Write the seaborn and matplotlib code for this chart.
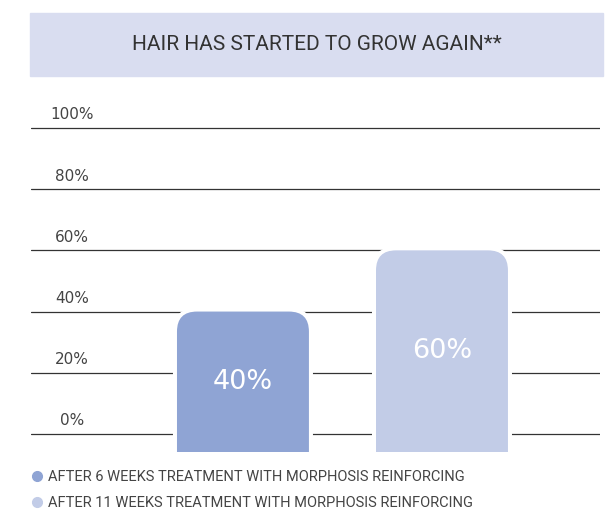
import numpy as np
import pandas as pd
import matplotlib.pyplot as plt
import seaborn as sns
from matplotlib.patches import FancyBboxPatch, Rectangle
from matplotlib.lines import Line2D
import matplotlib.transforms as mtransforms

# 数据
title = "HAIR HAS STARTED TO GROW AGAIN**"
groups = ["AFTER 6 WEEKS TREATMENT WITH MORPHOSIS REINFORCING",
          "AFTER 11 WEEKS TREATMENT WITH MORPHOSIS REINFORCING"]
values = [40, 60]
bar_labels = ["40%", "60%"]
ticks = [0, 20, 40, 60, 80, 100]
tick_labels = ["0%", "20%", "40%", "60%", "80%", "100%"]
colors = ["#8fa4d4", "#c2cce7"]

df = pd.DataFrame({"group": groups, "value": values})

sns.set_theme(style="white")
plt.rcParams['font.family'] = ['Roboto', 'DejaVu Sans']

W, H = 611, 514
fig = plt.figure(figsize=(W / 100, H / 100), dpi=100)
ax = fig.add_axes([31 / W, (H - 452) / H, 569 / W, (452 - 120) / H])

sns.barplot(data=df, x="group", y="value", hue="group", palette=colors,
            saturation=1, width=0.663, legend=False, ax=ax)
ax.set_xlim(-1.065, 1.794)
ax.set_ylim(-5.9, 102.6)

# 网格线
ax.set_yticks(ticks)
ax.set_yticklabels([])
ax.tick_params(length=0)
ax.set_xticks([])
ax.yaxis.grid(True, color="#333333", lw=0.9)
ax.set_axisbelow(True)
ax.set_xlabel("")
ax.set_ylabel("")
sns.despine(ax=ax, left=True, bottom=True)

# 圆角柱子：替换seaborn的矩形
sx = ax.transData.transform((1, 0))[0] - ax.transData.transform((0, 0))[0]
sy = ax.transData.transform((0, 1))[1] - ax.transData.transform((0, 0))[1]
aspect = sx / sy
r = 20 / sx
y_bottom = ax.get_ylim()[0]
for p in list(ax.patches):
    x0, w, top = p.get_x(), p.get_width(), p.get_height()
    fc = p.get_facecolor()
    p.remove()
    y0 = y_bottom - 10
    halo = FancyBboxPatch((x0, y0), w, top - y0,
                          boxstyle=f"round,pad=0,rounding_size={r}",
                          mutation_aspect=aspect, fc="white", ec="white",
                          lw=5.8, zorder=2)
    bar = FancyBboxPatch((x0, y0), w, top - y0,
                         boxstyle=f"round,pad=0,rounding_size={r}",
                         mutation_aspect=aspect, fc=fc, ec="none", zorder=3)
    ax.add_patch(halo)
    ax.add_patch(bar)

# 柱子上的数值
for i, (v, lab) in enumerate(zip(values, bar_labels)):
    ax.text(i, (v + y_bottom) / 2, lab, ha="center", va="center",
            color="white", fontsize=19.5, fontfamily="DejaVu Sans", zorder=4)

# y轴标签放在线上方
trans = mtransforms.blended_transform_factory(ax.transAxes, ax.transData)
for t, lab in zip(ticks, tick_labels):
    ax.annotate(lab, (0.072, t), xycoords=trans, xytext=(0, 4),
                textcoords="offset points", ha="center", va="bottom",
                fontsize=11, color="#444444", fontfamily="DejaVu Sans",
                annotation_clip=False)

# 标题框
fig.add_artist(Rectangle((30 / W, (H - 76) / H), 573 / W, 63 / H,
                         transform=fig.transFigure, color="#d9ddf0", zorder=0))
fig.text(317 / W, (H - 45) / H, title, ha="center", va="center",
         fontsize=15, color="#333333")

# 图例
handles = [Line2D([0], [0], marker="o", ls="", ms=7, color=c, label=g)
           for c, g in zip(colors, groups)]
fig.legend(handles=handles, loc="upper left", bbox_to_anchor=(31 / W, (H - 470) / H),
           frameon=False, fontsize=10.5, handlelength=0.8, handletextpad=0.4,
           labelspacing=0.85, borderpad=0, borderaxespad=0, labelcolor="#444444")

fig.savefig("out.png", dpi=100)
